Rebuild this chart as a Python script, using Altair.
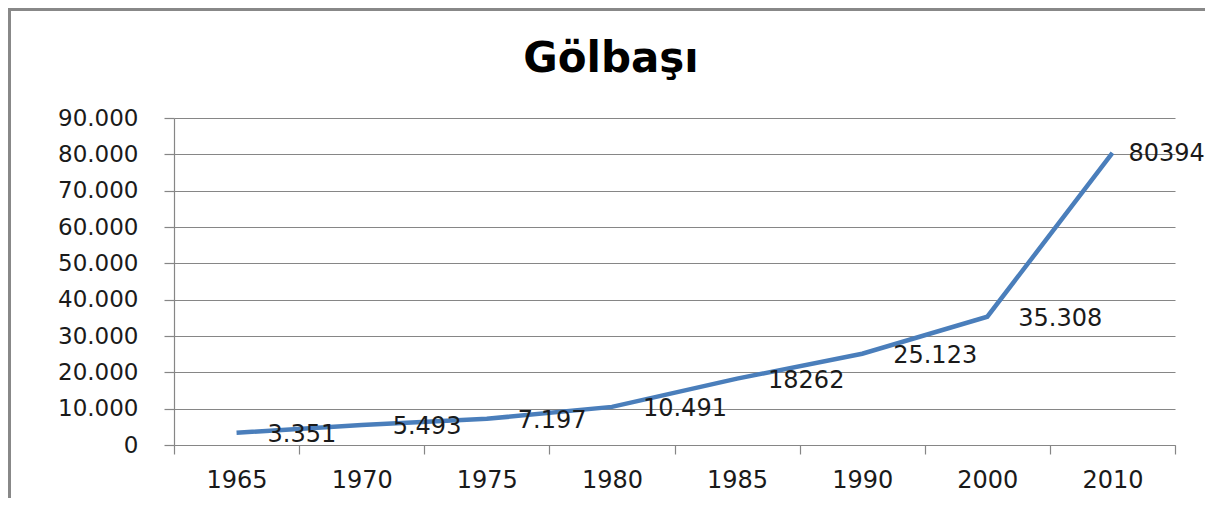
import altair as alt
import pandas as pd

years = ["1965", "1970", "1975", "1980", "1985", "1990", "2000", "2010"]
population = [3351, 5493, 7197, 10491, 18262, 25123, 35308, 80394]
value_labels = ["3.351", "5.493", "7.197", "10.491", "18262", "25.123", "35.308", "80394"]
y_ticks = [0, 10000, 20000, 30000, 40000, 50000, 60000, 70000, 80000, 90000]
title_text = "Gölbaşı"

df = pd.DataFrame({"year": years, "pop": population, "label": value_labels})

W, H = 1001, 327
PAD = {"left": 166, "top": 110, "right": 30, "bottom": 53}
GRAY = "#868686"
TXT = "#1a1a1a"

x_enc = alt.X(
    "year:N",
    sort=years,
    scale=alt.Scale(type="band", paddingInner=0, paddingOuter=0),
    axis=alt.Axis(
        title=None, labelAngle=0, tickBand="extent", ticks=True, tickSize=9,
        tickColor=GRAY, domainColor=GRAY, domainWidth=1.2, tickWidth=1.2,
        labelFont="DejaVu Sans", labelFontSize=24, labelColor=TXT,
        labelPadding=14, grid=False,
    ),
)
y_enc = alt.Y(
    "pop:Q",
    scale=alt.Scale(domain=[0, 90000], nice=False),
    axis=alt.Axis(
        title=None, values=y_ticks,
        labelExpr="replace(format(datum.value, ','), ',', '.')",
        tickSize=10, tickColor=GRAY, domainColor=GRAY, domainWidth=1.2, tickWidth=1.2,
        grid=True, gridColor=GRAY, gridWidth=1.2, gridOpacity=1,
        labelFont="DejaVu Sans", labelFontSize=23, labelColor=TXT, labelPadding=26,
    ),
)

base = alt.Chart(df)

line = base.mark_line(color="#4A7EBB", strokeWidth=4.5).encode(x=x_enc, y=y_enc)

labels = base.transform_filter(alt.datum.year != "2010").mark_text(
    align="left", baseline="middle", dx=31, dy=2,
    font="DejaVu Sans", fontSize=24, color=TXT,
).encode(x=x_enc, y=y_enc, text="label:N")

last_label = base.transform_filter(alt.datum.year == "2010").mark_text(
    align="left", baseline="middle", dx=16, dy=1,
    font="DejaVu Sans", fontSize=24, color=TXT,
).encode(x=x_enc, y=y_enc, text="label:N")

single = alt.Data(values=[{"t": title_text}])
frame_left = alt.Chart(single).mark_rule(color="#888888", strokeWidth=3).encode(
    x=alt.value(-164.5), y=alt.value(-PAD["top"]), y2=alt.value(H + PAD["bottom"])
)
frame_top = alt.Chart(single).mark_rule(color="#888888", strokeWidth=3).encode(
    x=alt.value(-PAD["left"]), x2=alt.value(W + PAD["right"]), y=alt.value(-PAD["top"] + 1.5)
)
title = alt.Chart(single).mark_text(
    font="DejaVu Sans", fontSize=42, fontWeight="bold", color="#000000",
    align="center", baseline="alphabetic",
).encode(x=alt.value(437), y=alt.value(-46), text="t:N")

chart = alt.layer(frame_left, frame_top, title, line, labels, last_label).properties(
    width=W,
    height=H,
    padding=PAD,
    autosize=alt.AutoSizeParams(type="none"),
).configure_view(stroke=None)

chart.save("out.html", embed_options={"renderer": "svg", "actions": False})
